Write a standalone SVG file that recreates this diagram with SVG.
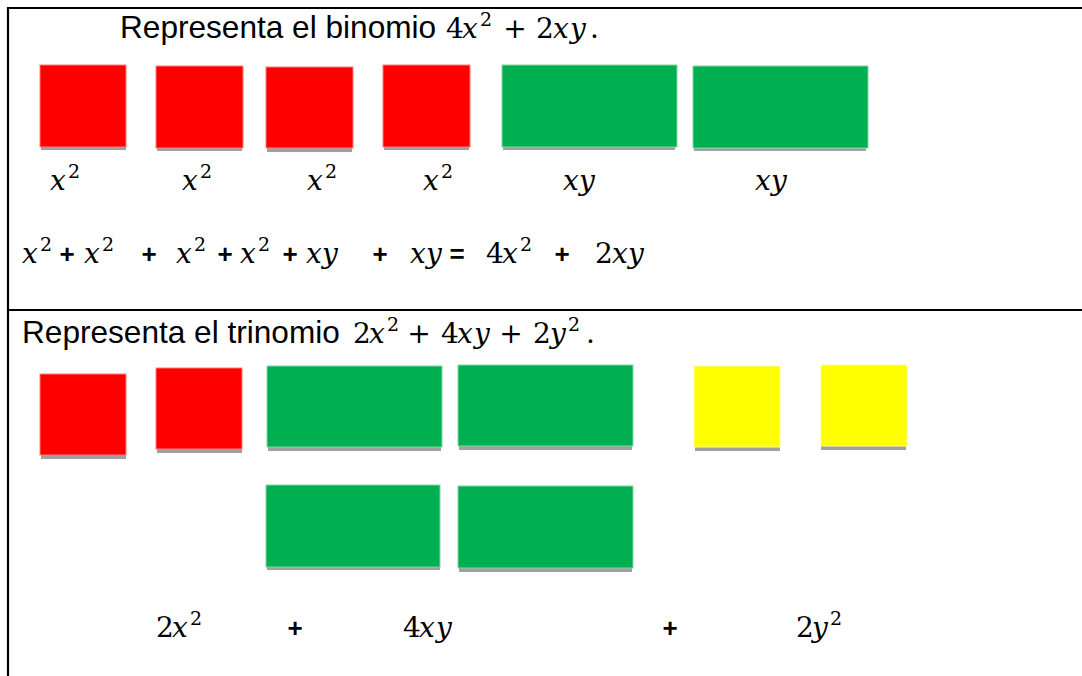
<svg xmlns="http://www.w3.org/2000/svg" width="1082" height="676" viewBox="0 0 1082 676">
<style>
.t{font-family:"Liberation Sans",Arial,sans-serif;font-size:31.6px;fill:#000}
.m{font-family:"DejaVu Serif","Liberation Serif",serif;font-size:28px;fill:#000}
.i{font-style:italic}
.s{font-size:19px}
.p{font-family:"Liberation Sans",Arial,sans-serif;font-weight:bold;font-size:26px;text-anchor:middle;fill:#000}
.mp{text-anchor:middle}
.sh{fill:#A0A0A0}
.r{fill:#FF0000;stroke:#ff7a7a;stroke-width:1}
.g{fill:#00B050;stroke:#7fd8a6;stroke-width:1}
.y{fill:#FFFF00;stroke:#ffff9a;stroke-width:1}
.frame{fill:none;stroke:#000;stroke-width:2.2}
</style>
<rect width="1082" height="676" fill="#fff"/>
<g id="frame">
<path class="frame" d="M8,676 V8 H1082"/>
<path class="frame" d="M8,310 H1082"/>
</g>

<g id="title1">
<text class="t" x="120" y="38">Representa el binomio</text>
<text class="m" y="38"><tspan x="446">4</tspan><tspan class="i" x="462">x</tspan><tspan class="s" x="480" y="26">2</tspan><tspan x="515" y="38" class="mp">+</tspan><tspan x="536">2</tspan><tspan class="i" x="553">x</tspan><tspan class="i" x="570">y</tspan><tspan x="590">.</tspan></text>
</g>

<g id="row1-tiles">
<g id="t1-x2a"><rect class="sh" x="41" y="146" width="85" height="4"/><rect class="r" x="40" y="65" width="86" height="82"/></g>
<g id="t1-x2b"><rect class="sh" x="157" y="147" width="85" height="4"/><rect class="r" x="156" y="66" width="87" height="82"/></g>
<g id="t1-x2c"><rect class="sh" x="267" y="147" width="85" height="5"/><rect class="r" x="266" y="67" width="87" height="81"/></g>
<g id="t1-x2d"><rect class="sh" x="384" y="146" width="85" height="4"/><rect class="r" x="383" y="65" width="87" height="82"/></g>
<g id="t1-xya"><rect class="sh" x="503" y="146" width="172" height="4"/><rect class="g" x="502" y="65" width="175" height="82"/></g>
<g id="t1-xyb"><rect class="sh" x="694" y="147" width="172" height="4"/><rect class="g" x="693" y="66" width="175" height="82"/></g>
</g>

<g id="row1-labels">
<text class="m" y="190"><tspan class="i" x="50">x</tspan><tspan class="s" x="68" y="178">2</tspan></text>
<text class="m" y="190"><tspan class="i" x="182">x</tspan><tspan class="s" x="200" y="178">2</tspan></text>
<text class="m" y="190"><tspan class="i" x="307">x</tspan><tspan class="s" x="325" y="178">2</tspan></text>
<text class="m" y="190"><tspan class="i" x="423">x</tspan><tspan class="s" x="441" y="178">2</tspan></text>
<text class="m i" y="190"><tspan x="563">x</tspan><tspan x="579">y</tspan></text>
<text class="m i" y="190"><tspan x="755">x</tspan><tspan x="771">y</tspan></text>
</g>

<g id="equation1">
<text class="m" y="263"><tspan class="i" x="22">x</tspan><tspan class="s" x="40" y="251">2</tspan></text>
<text class="p" x="67" y="263">+</text>
<text class="m" y="263"><tspan class="i" x="84">x</tspan><tspan class="s" x="102" y="251">2</tspan></text>
<text class="p" x="149" y="263">+</text>
<text class="m" y="263"><tspan class="i" x="176">x</tspan><tspan class="s" x="194" y="251">2</tspan></text>
<text class="p" x="225" y="263">+</text>
<text class="m" y="263"><tspan class="i" x="240">x</tspan><tspan class="s" x="258" y="251">2</tspan></text>
<text class="p" x="290" y="263">+</text>
<text class="m i" y="263"><tspan x="306">x</tspan><tspan x="322">y</tspan></text>
<text class="p" x="380" y="263">+</text>
<text class="m i" y="263"><tspan x="410">x</tspan><tspan x="426">y</tspan></text>
<text class="p" x="457" y="263">=</text>
<text class="m" y="263"><tspan x="486">4</tspan><tspan class="i" x="502">x</tspan><tspan class="s" x="520" y="251">2</tspan></text>
<text class="p" x="562" y="263">+</text>
<text class="m" y="263"><tspan x="595">2</tspan><tspan class="i" x="612">x</tspan><tspan class="i" x="628">y</tspan></text>
</g>

<g id="title2">
<text class="t" x="22" y="343">Representa el trinomio</text>
<text class="m" y="343"><tspan x="353">2</tspan><tspan class="i" x="369">x</tspan><tspan class="s" x="387" y="331">2</tspan><tspan class="mp" x="419" y="343">+</tspan><tspan x="441">4</tspan><tspan class="i" x="457">x</tspan><tspan class="i" x="474">y</tspan><tspan class="mp" x="511">+</tspan><tspan x="533">2</tspan><tspan class="i" x="550">y</tspan><tspan class="s" x="568" y="331">2</tspan><tspan x="586" y="343">.</tspan></text>
</g>

<g id="row2-tiles">
<g id="t2-x2a"><rect class="sh" x="41" y="454" width="85" height="5"/><rect class="r" x="40" y="374" width="86" height="81"/></g>
<g id="t2-x2b"><rect class="sh" x="157" y="448" width="85" height="5"/><rect class="r" x="156" y="368" width="86" height="81"/></g>
<g id="t2-xya"><rect class="sh" x="268" y="446" width="173" height="5"/><rect class="g" x="267" y="366" width="175" height="81"/></g>
<g id="t2-xyb"><rect class="sh" x="459" y="445" width="173" height="5"/><rect class="g" x="458" y="365" width="175" height="81"/></g>
<g id="t2-y2a"><rect class="sh" x="695" y="446" width="85" height="5"/><rect class="y" x="694" y="366" width="86" height="81"/></g>
<g id="t2-y2b"><rect class="sh" x="821" y="445" width="85" height="5"/><rect class="y" x="821" y="365" width="86" height="81"/></g>
<g id="t2-xyc"><rect class="sh" x="267" y="566" width="173" height="4"/><rect class="g" x="266" y="485" width="174" height="82"/></g>
<g id="t2-xyd"><rect class="sh" x="459" y="567" width="173" height="5"/><rect class="g" x="458" y="486" width="175" height="82"/></g>
</g>

<g id="row2-labels">
<text class="m" y="637"><tspan x="156">2</tspan><tspan class="i" x="172">x</tspan><tspan class="s" x="190" y="625">2</tspan></text>
<text class="p" x="295" y="637">+</text>
<text class="m" y="637"><tspan x="403">4</tspan><tspan class="i" x="419">x</tspan><tspan class="i" x="436">y</tspan></text>
<text class="p" x="670" y="637">+</text>
<text class="m" y="637"><tspan x="796">2</tspan><tspan class="i" x="812">y</tspan><tspan class="s" x="830" y="625">2</tspan></text>
</g>
</svg>
